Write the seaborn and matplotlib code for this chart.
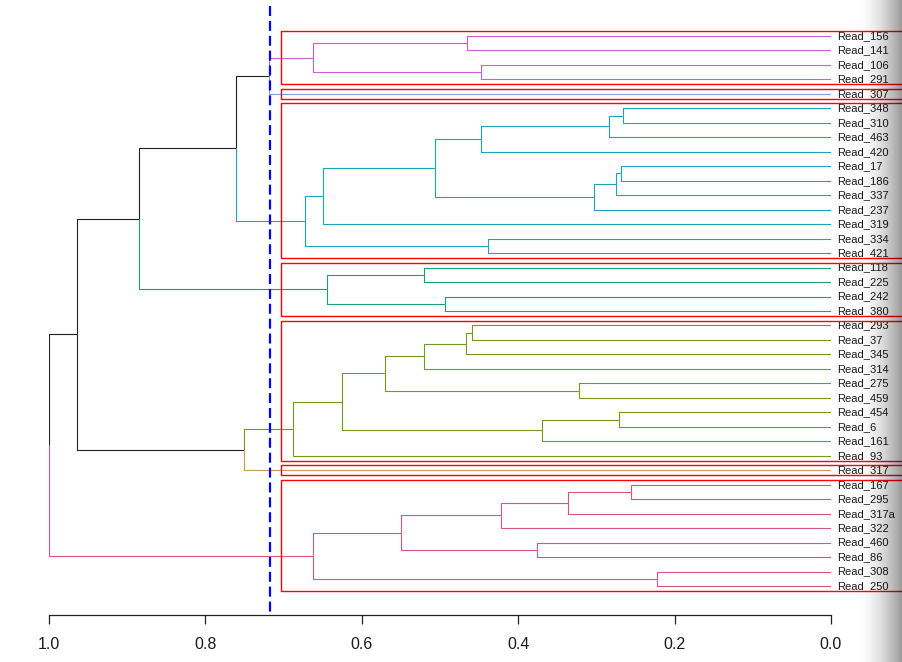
import numpy as np
import matplotlib
matplotlib.use("Agg")
import matplotlib.pyplot as plt
import seaborn as sns
from matplotlib.patches import Rectangle

# tree data: each merge joins two items (leaf label or index of an earlier merge)
merge_a = ["Read_348", 0, 1, "Read_17", 3, 4, 2, 6, "Read_334", 7,
           "Read_156", "Read_106", 10, 12, 13,
           "Read_118", "Read_242", 15, 14,
           "Read_293", 19, 20, "Read_275", 21, "Read_454", 24, 23, 26, 27, 18,
           "Read_167", 30, 31, "Read_460", 32, "Read_308", 34, 29]
merge_b = ["Read_310", "Read_463", "Read_420", "Read_186", "Read_337", "Read_237", 5, "Read_319", "Read_421", 8,
           "Read_141", "Read_291", 11, "Read_307", 9,
           "Read_225", "Read_380", 16, 17,
           "Read_37", "Read_345", "Read_314", "Read_459", 22, "Read_6", "Read_161", 25, "Read_93", "Read_317", 28,
           "Read_295", "Read_317a", "Read_322", "Read_86", 33, "Read_250", 35, 36]
merge_h = [0.266, 0.284, 0.448, 0.2685, 0.275, 0.303, 0.506, 0.650, 0.438, 0.673,
           0.466, 0.448, 0.662, 0.7185, 0.761,
           0.520, 0.494, 0.645, 0.885,
           0.459, 0.467, 0.520, 0.322, 0.570, 0.2715, 0.370, 0.625, 0.688, 0.751, 0.964,
           0.2555, 0.336, 0.422, 0.3765, 0.550, 0.222, 0.662, 1.0]

cut_height = 0.718
cluster_colors = ["#CB5ED0", "#7F9DE0", "#1CA5B8", "#18A06E", "#6E9B18", "#C99D50", "#D9557F"]
x_ticks = [1.0, 0.8, 0.6, 0.4, 0.2, 0.0]

sns.set_theme(style="white")
plt.rcParams["font.family"] = ["Liberation Sans", "DejaVu Sans"]

W, H = 903, 662
fig = plt.figure(figsize=(W / 100, H / 100), dpi=100)
ax = fig.add_axes([49 / W, (H - 615) / H, (831 - 49) / W, (615 - 6) / H])

root = len(merge_h) - 1

# leaf order
order = []
def walk(ref):
    if isinstance(ref, str):
        order.append(ref)
    else:
        walk(merge_a[ref])
        walk(merge_b[ref])
walk(root)
pos = {lab: i + 1 for i, lab in enumerate(order)}

def height(ref):
    return 0.0 if isinstance(ref, str) else merge_h[ref]

def ypos(ref):
    if isinstance(ref, str):
        return pos[ref]
    return (ypos(merge_a[ref]) + ypos(merge_b[ref])) / 2

def leaves(ref):
    if isinstance(ref, str):
        return [ref]
    return leaves(merge_a[ref]) + leaves(merge_b[ref])

# clusters from the cut
clusters = []
def find(ref):
    if height(ref) < cut_height:
        clusters.append(ref)
    else:
        find(merge_a[ref])
        find(merge_b[ref])
find(root)
cl_color = {c: cluster_colors[i] for i, c in enumerate(clusters)}

def draw(ref, col):
    if isinstance(ref, str):
        return
    h, y = merge_h[ref], ypos(ref)
    for ch in (merge_a[ref], merge_b[ref]):
        if col is not None:
            c = col
        else:
            c = cl_color.get(ch)
        ax.plot([h, h, height(ch)], [y, ypos(ch), ypos(ch)],
                color=c if c else "#222222", lw=0.8, solid_capstyle="butt")
        draw(ch, c)
draw(root, None)

for lab in order:
    ax.annotate(lab, (0, pos[lab]), xytext=(4.6, 0), textcoords="offset points",
                va="center", ha="left", fontsize=8, color="#1a1a1a", annotation_clip=False)

# rectangles around the clusters
top_h = sorted(merge_h, reverse=True)
k = len(clusters)
rect_h = (top_h[k - 2] + top_h[k - 1]) / 2
for c in clusters:
    lv = leaves(c)
    y0, y1 = pos[lv[0]] - 0.34, pos[lv[-1]] + 0.33
    ax.add_patch(Rectangle((rect_h, y0), -0.25 - rect_h, y1 - y0, fill=False,
                           edgecolor="red", lw=1.0, clip_on=False, zorder=3))

y_top = 1 - 30 / 14.474
y_bot = 39 + 29 / 14.474
ax.plot([cut_height, cut_height], [y_top, y_bot], color="blue", lw=1.6,
        ls=(0, (4.5, 2.2)), zorder=4)

ax.set_xlim(1.0, 0.0)
ax.set_ylim(y_bot, y_top)
for s in ["top", "left", "right"]:
    ax.spines[s].set_visible(False)
ax.spines["bottom"].set_color("#222222")
ax.spines["bottom"].set_linewidth(0.9)
ax.set_yticks([])
ax.set_xticks(x_ticks)
ax.set_xticklabels([f"{v:.1f}" for v in x_ticks])
ax.tick_params(axis="x", bottom=True, length=6.5, width=0.9, color="#222222",
               direction="out", pad=9, labelsize=11.5, labelcolor="#1a1a1a")
ax.patch.set_alpha(0)

# soft shadow at the right edge
sax = fig.add_axes([856 / W, 0, (W - 856) / W, 1])
t = np.linspace(0, 1, 200)
img = np.zeros((1, 200, 4))
img[..., 3] = 0.42 * t ** 1.8
sax.imshow(img, aspect="auto", extent=(0, 1, 0, 1))
sax.axis("off")

fig.savefig("out.png", dpi=100, facecolor="white")
